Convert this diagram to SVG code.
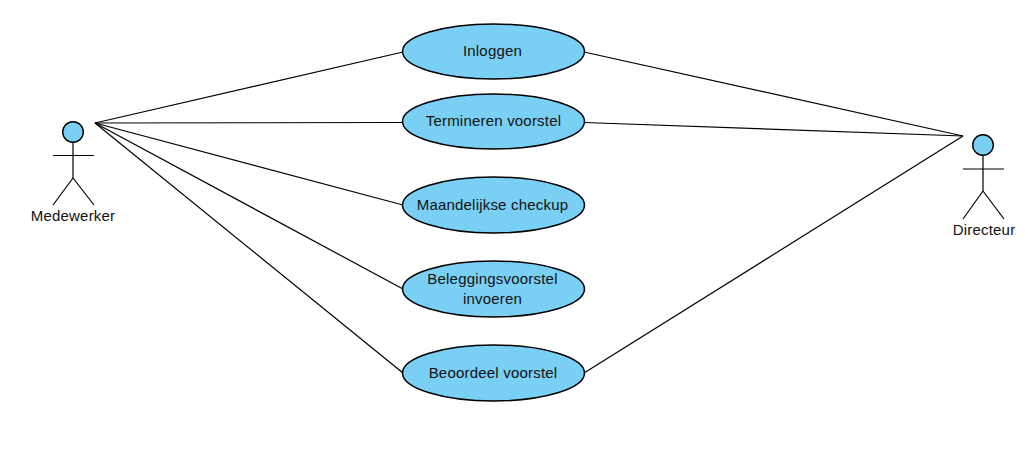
<svg xmlns="http://www.w3.org/2000/svg" width="1033" height="460" viewBox="0 0 1033 460">
  <style>
    .usecase { fill: #7acff5; stroke: #000; stroke-width: 1.5; }
    .head { fill: #7acff5; stroke: #000; stroke-width: 1.4; }
    .limb { fill: none; stroke: #000; stroke-width: 1.2; }
    #connectors line { stroke: #000; stroke-width: 1.2; }
    text { font-family: "Liberation Sans", Arial, sans-serif; font-size: 15px; letter-spacing: 0.2px; fill: #111; text-anchor: middle; }
  </style>
  <rect width="1033" height="460" fill="#fff"/>
  <g id="connectors">
    <line x1="95" y1="123" x2="403" y2="52"/>
    <line x1="95" y1="123" x2="403" y2="122.500"/>
    <line x1="95" y1="123" x2="403" y2="205"/>
    <line x1="95" y1="123" x2="403" y2="289"/>
    <line x1="95" y1="123" x2="403" y2="373"/>
    <line x1="584" y1="52" x2="963" y2="136"/>
    <line x1="584" y1="122.500" x2="963" y2="136"/>
    <line x1="584" y1="373" x2="963" y2="136"/>
  </g>
  <g id="actor-medewerker">
    <circle class="head" cx="73" cy="132" r="10.300"/>
    <path class="limb" d="M73 142.500V178M53 155.500H94M73 178L53 205M73 178L94 205"/>
    <text x="73" y="221">Medewerker</text>
  </g>
  <g id="actor-directeur">
    <circle class="head" cx="983" cy="145" r="10.300"/>
    <path class="limb" d="M983 155.500V191M963 169H1004M983 191L963 219M983 191L1004 219"/>
    <text x="984" y="235">Directeur</text>
  </g>
  <g id="usecase-inloggen">
    <ellipse class="usecase" cx="493.500" cy="51.500" rx="91" ry="27.500"/>
    <text x="492.500" y="56">Inloggen</text>
  </g>
  <g id="usecase-termineren">
    <ellipse class="usecase" cx="493.500" cy="121.500" rx="91" ry="27.500"/>
    <text x="493.500" y="126">Termineren voorstel</text>
  </g>
  <g id="usecase-checkup">
    <ellipse class="usecase" cx="493.500" cy="205" rx="91" ry="28"/>
    <text x="492.500" y="210">Maandelijkse checkup</text>
  </g>
  <g id="usecase-beleggingsvoorstel">
    <ellipse class="usecase" cx="493.500" cy="289" rx="91" ry="28"/>
    <text x="492.500" y="284">Beleggingsvoorstel</text>
    <text x="492.500" y="304">invoeren</text>
  </g>
  <g id="usecase-beoordeel">
    <ellipse class="usecase" cx="493.500" cy="373" rx="91" ry="28"/>
    <text x="493" y="378">Beoordeel voorstel</text>
  </g>
</svg>
